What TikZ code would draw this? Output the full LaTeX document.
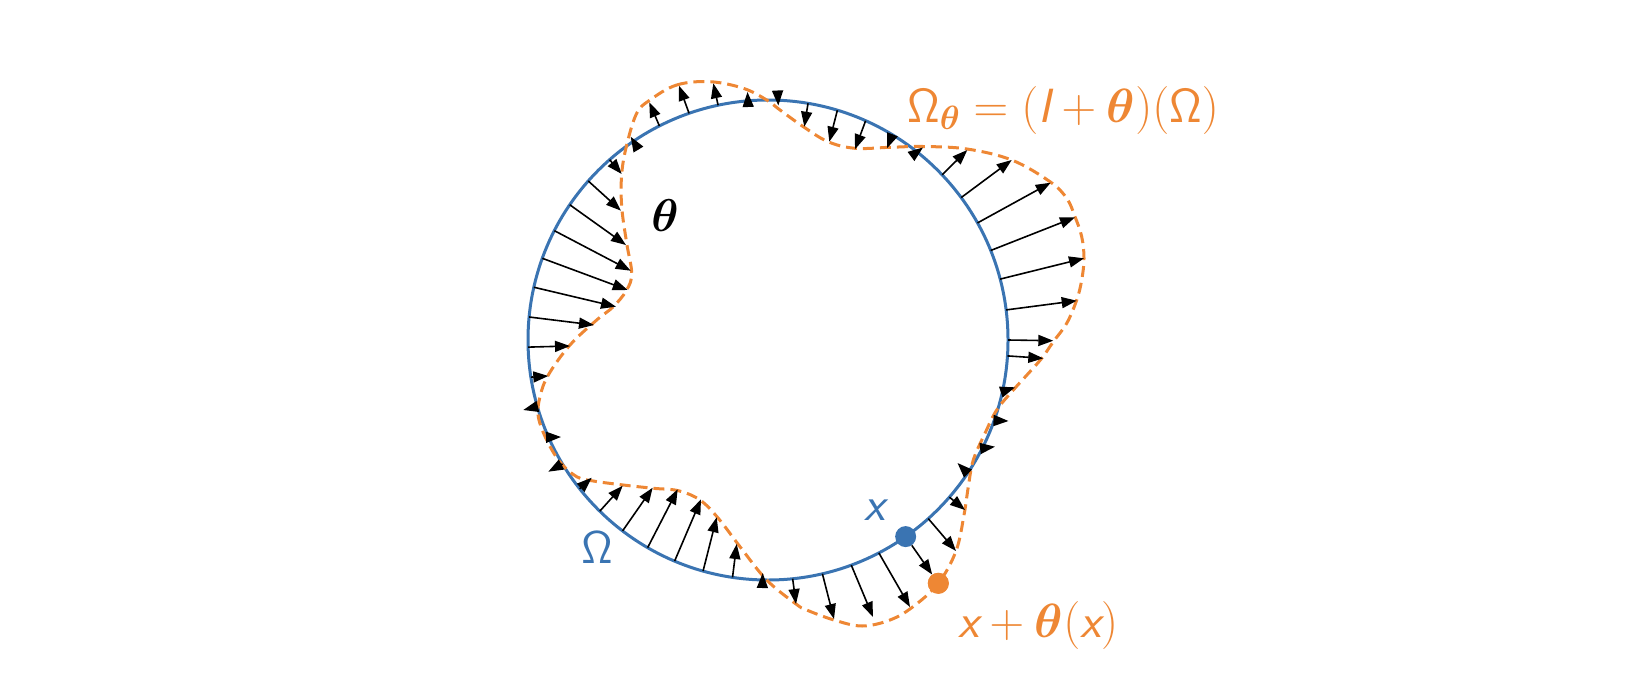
\documentclass[tikz,border=0pt]{standalone}
\usepackage{fix-cm}
\usepackage{fontspec}
\usepackage{bm}
\usetikzlibrary{arrows.meta,calc}
\definecolor{omegablue}{RGB}{58,116,178}
\definecolor{shiftorange}{RGB}{238,135,52}

% sans Omega and sans italic letters, as on the slides
\newcommand{\sOmega}{\mbox{\usefont{OT1}{cmss}{m}{n}\char"0A}}
\newcommand{\sit}[1]{\mbox{\sffamily\itshape #1}}

% one displacement vector theta(x): from the circle at angle #1 to (#2,#3)
\newcommand{\Displace}[3]{
    \draw[vec] ($(O)+(-#1:240)$) -- (#2,#3);
}

\begin{document}
\begin{tikzpicture}[x=1pt, y=-1pt,
    vec/.style={line width=1.6pt, -{Triangle[length=15pt,width=11pt]}},
    dot/.style={circle, inner sep=0pt, minimum size=21pt},
    lbl/.style={inner sep=0pt, font=\fontsize{48}{56}\selectfont}]
    \useasboundingbox (0,0) rectangle (1640,680);
    \coordinate (O) at (768,340);

    % reference domain
    \draw[omegablue, line width=3pt] (O) circle[radius=240];

    % deformed boundary
    \draw[shiftorange, line width=3pt, dash pattern=on 11pt off 6pt]
        plot[smooth cycle, tension=0.6] coordinates {
        (650,100) (676.7,85) (710,81.7) (743.3,88.3) (766.7,100) (780,110)
        (803.3,126.7) (828,141.7) (855,148.3) (890,147.3) (923.3,146.5)
        (967,149) (1011.7,160) (1050,181.7) (1066.7,198.3) (1075,216.7)
        (1081.7,236.7) (1084,258.3) (1081.7,280) (1076.7,300) (1066.7,323.3)
        (1053.3,341.7) (1041.7,358.3) (1026,376) (1013.3,390)
        (996.7,410) (985,433.3) (973.3,460) (968.3,486.7)
        (964,515) (956,551) (938.3,583.3) (913,606.7) (890,620) (862,626)
        (834,620) (806.7,610) (796,604) (766.7,580) (740,546.7) (718.3,518.3)
        (700,500) (678.3,490.7) (653.3,488.3) (623.3,485) (593.3,481)
        (576.7,476.7) (560,462) (546.7,440) (538.3,416.7) (540,396.7)
        (548.3,375) (570,345) (596.7,320) (613.3,306.7) (626.7,290)
        (631.7,273.3) (626.7,243.3) (621.7,206.7) (621.7,174) (626.7,145)
        (636.7,113.3)};

    % vector field theta on the boundary
    \Displace{0}{1053.3}{340.7}
    \Displace{7.2}{1076.7}{300.7}
    \Displace{14.7}{1084}{258.3}
    \Displace{21.9}{1075}{217.3}
    \Displace{29.2}{1050.7}{182.7}
    \Displace{36.4}{1011.7}{160}
    \Displace{43.5}{967.3}{150}
    \Displace{51.6}{923}{147.5}
    \Displace{58.8}{887}{148.3}
    \Displace{66.0}{855}{149.3}
    \Displace{73.2}{829.3}{141.7}
    \Displace{80.4}{804.3}{126.7}
    \Displace{87.6}{778.3}{105.5}
    \Displace{94.8}{747.5}{92}
    \Displace{102.0}{713.3}{83.3}
    \Displace{109.2}{679}{85.7}
    \Displace{116.9}{649.3}{102.3}
    \Displace{124.1}{630.7}{136.7}
    \Displace{131.3}{621.7}{174}
    \Displace{138.5}{621}{210.7}
    \Displace{145.7}{626}{245}
    \Displace{152.9}{630.7}{270.7}
    \Displace{160.1}{627.7}{290}
    \Displace{167.3}{616}{306.7}
    \Displace{174.5}{594}{325}
    \Displace{181.7}{570}{346}
    \Displace{188.9}{548.3}{376}
    \Displace{196.1}{523.3}{410}
    \Displace{203.9}{561}{437}
    \Displace{211.1}{548.3}{471.7}
    \Displace{218.3}{591.7}{477.7}
    \Displace{225.5}{622.7}{485.7}
    \Displace{232.7}{652.7}{487.7}
    \Displace{239.9}{677.7}{489.3}
    \Displace{247.1}{701}{499.3}
    \Displace{254.3}{716.7}{517.3}
    \Displace{261.5}{736.7}{544}
    \Displace{268.7}{762.7}{573}
    \Displace{275.9}{796}{604}
    \Displace{283.1}{834}{619}
    \Displace{290.3}{873}{617}
    \Displace{297.5}{910}{607}
    \Displace{311.9}{956}{551}
    \Displace{319.1}{965}{510}
    \Displace{326.3}{957.5}{463}
    \Displace{333.2}{995}{446.7}
    \Displace{340.4}{1008.5}{421}
    \Displace{347.6}{1015}{387.3}
    \Displace{356.2}{1043.3}{358.3}

    % the point x and its image
    \node[dot, fill=omegablue] (xpt) at ($(O)+(-305:240)$) {};
    \node[dot, fill=shiftorange] (ypt) at (938.3,583.3) {};
    \draw[vec] (xpt) -- (ypt);
    \node[dot, fill=shiftorange] at (ypt) {};

    % labels
    \node[lbl, anchor=base west, text=shiftorange] (omtheta) at (907,122)
        {$\sOmega_{\bm{\theta}} = (\sit{I} + \bm{\theta})(\sOmega)$};
    \node[lbl, font=\fontsize{46}{52}\selectfont] (thetalbl) at (665,216) {$\bm{\theta}$};
    \node[lbl, anchor=base, text=omegablue, font=\fontsize{46}{52}\selectfont]
        (omlbl) at (597,563) {$\sOmega$};
    \node[lbl, anchor=base, text=omegablue] (xlbl) at (875,520) {$\sit{x}$};
    \node[lbl, anchor=base west, text=shiftorange] (ylbl) at (958,637)
        {$\sit{x} + \bm{\theta}(\sit{x})$};
\end{tikzpicture}
\end{document}
